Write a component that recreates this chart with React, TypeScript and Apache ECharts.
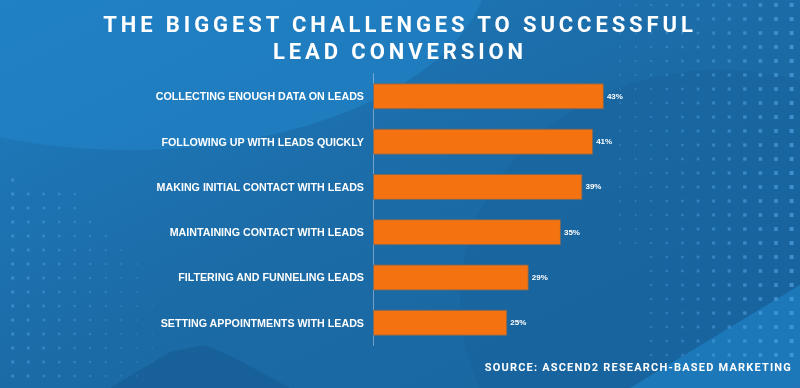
import React, { useEffect, useRef } from "react";
import * as echarts from "echarts";

const categories: string[] = [
  "COLLECTING ENOUGH DATA ON LEADS",
  "FOLLOWING UP WITH LEADS QUICKLY",
  "MAKING INITIAL CONTACT WITH LEADS",
  "MAINTAINING CONTACT WITH LEADS",
  "FILTERING AND FUNNELING LEADS",
  "SETTING APPOINTMENTS WITH LEADS",
];
const values: number[] = [43, 41, 39, 35, 29, 25];
const titleLines: string[] = ["THE BIGGEST CHALLENGES TO SUCCESSFUL", "LEAD CONVERSION"];
const sourceText = "SOURCE: ASCEND2 RESEARCH-BASED MARKETING";

function buildDecor(): any[] {
  const items: any[] = [];
  items.push({
    type: "rect",
    z: -10,
    shape: { x: 0, y: 0, width: 800, height: 388 },
    style: {
      fill: new echarts.graphic.LinearGradient(0, 0, 1, 1, [
        { offset: 0, color: "#1f7dc0" },
        { offset: 0.5, color: "#1b6ba6" },
        { offset: 1, color: "#1a66a0" },
      ]),
    },
    silent: true,
  });
  items.push({
    type: "ellipse",
    z: -9,
    shape: { cx: 130, cy: -40, rx: 360, ry: 190 },
    style: { fill: "#2283c8", opacity: 0.6 },
    silent: true,
  });
  items.push({
    type: "ellipse",
    z: -9,
    shape: { cx: 720, cy: 300, rx: 260, ry: 230 },
    style: { fill: "#185f98", opacity: 0.35 },
    silent: true,
  });
  items.push({
    type: "polygon",
    z: -9,
    shape: { points: [[630, 388], [800, 285], [800, 388]] },
    style: { fill: "#2080c4", opacity: 0.7 },
    silent: true,
  });
  items.push({
    type: "polygon",
    z: -9,
    shape: { points: [[110, 388], [170, 352], [205, 345], [235, 358], [290, 388]] },
    style: { fill: "#175d94", opacity: 0.7 },
    silent: true,
  });
  for (let i = 0; i < 12; i++) {
    for (let j = 0; j < 26; j++) {
      const x = 620 + i * 15.6;
      const y = 5 + j * 14;
      if (i < 2 && j > 17) continue;
      const s = 1.8 + i * 0.2;
      items.push({
        type: "rect",
        z: -8,
        shape: { x: x - s / 2, y: y - s / 2, width: s, height: s },
        style: { fill: "#4fa2e4", opacity: 0.3 + i * 0.035 },
        silent: true,
      });
    }
  }
  const rowCounts = [1, 5, 5, 6, 7, 8, 9, 9, 9, 10, 10, 10, 10, 10, 10];
  rowCounts.forEach((n, j) => {
    for (let i = 0; i < n; i++) {
      const x = 12.7 + i * 15.5;
      const y = 180 + j * 14;
      const s = 3 - i * 0.18;
      items.push({
        type: "rect",
        z: -8,
        shape: { x: x - s / 2, y: y - s / 2, width: s, height: s },
        style: { fill: "#4fa2e4", opacity: 0.55 - i * 0.03 },
        silent: true,
      });
    }
  });
  titleLines.forEach((line, k) => {
    items.push({
      type: "text",
      x: 400,
      y: 24.8 + k * 26.6,
      style: {
        text: line,
        fill: "#ffffff",
        font: "bold 22px Roboto",
        textAlign: "center",
        textVerticalAlign: "middle",
      },
      silent: true,
    });
  });
  items.push({
    type: "text",
    x: 792,
    y: 367,
    style: {
      text: sourceText,
      fill: "#ffffff",
      font: "bold 11px Roboto",
      textAlign: "right",
      textVerticalAlign: "middle",
    },
    silent: true,
  });
  return items;
}

export default function App() {
  const ref = useRef<HTMLDivElement>(null);
  useEffect(() => {
    const el = ref.current!;
    const chart = echarts.init(el, null, { renderer: "svg" });
    chart.setOption({
      animation: false,
      graphic: buildDecor(),
      grid: { left: 373, top: 73.7, bottom: 42.6, right: 158.5, containLabel: false },
      xAxis: {
        type: "value",
        min: 0,
        max: 50,
        show: false,
        splitLine: { show: false },
      },
      yAxis: {
        type: "category",
        inverse: true,
        data: categories,
        axisLine: { show: true, lineStyle: { color: "rgba(190,205,225,0.55)", width: 1 } },
        axisTick: { show: false },
        axisLabel: {
          color: "#ffffff",
          fontFamily: "Liberation Sans, Arial",
          fontWeight: "bold",
          fontSize: 10.7,
          margin: 9,
        },
      },
      series: [
        {
          type: "bar",
          data: values,
          barWidth: 26,
          itemStyle: {
            color: "#f4720f",
            borderColor: "rgba(110,105,100,0.85)",
            borderWidth: 1,
          },
          label: {
            show: true,
            position: "right",
            distance: 3,
            formatter: "{c}%",
            color: "#ffffff",
            fontFamily: "Liberation Sans, Arial",
            fontWeight: "bold",
            fontSize: 8,
          },
        },
      ],
    });
    const applySpacing = () => {
      el.querySelectorAll("text").forEach((t) => {
        const s = t.textContent || "";
        if (s.startsWith("THE BIGGEST") || s.startsWith("LEAD CONVERSION")) {
          t.setAttribute("letter-spacing", "3.9");
        } else if (s.startsWith("SOURCE")) {
          t.setAttribute("letter-spacing", "1.2");
        }
      });
    };
    applySpacing();
    chart.on("finished", applySpacing);
    const tm = setTimeout(applySpacing, 50);
    return () => {
      clearTimeout(tm);
      chart.dispose();
    };
  }, []);
  return (
    <div
      ref={ref}
      style={{ position: "fixed", left: 0, top: 0, width: 800, height: 388 }}
    />
  );
}
